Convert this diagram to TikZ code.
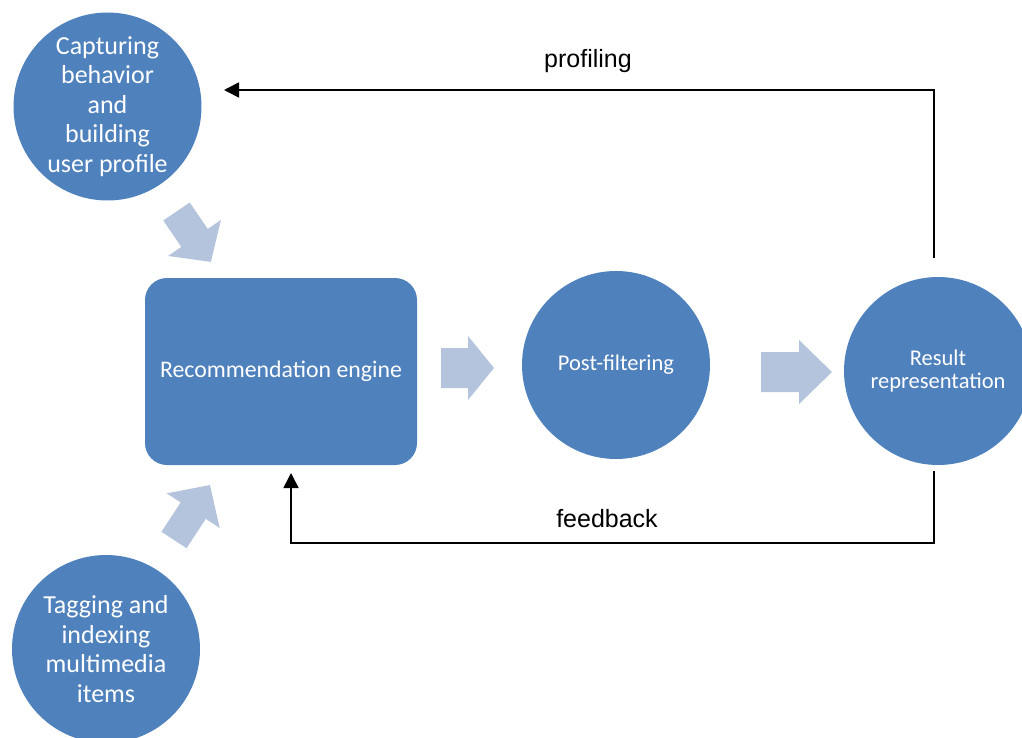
\documentclass[tikz,border=0pt]{standalone}
\usepackage{fontspec}
\setmainfont{Carlito}
\newfontfamily\labelfont{Liberation Sans}
\usetikzlibrary{arrows.meta}

\definecolor{nodeblue}{RGB}{79,129,189}
\definecolor{flowblue}{RGB}{180,196,221}

% block arrow: tail centre at the origin, pointing along +x
% #1 total length, #2 shaft half width, #3 head half width, #4 head length
\newcommand{\flowarrow}[4]{%
  \fill[flowblue] (0,-#2) -- ({#1-#4},-#2) -- ({#1-#4},-#3) -- (#1,0)
    -- ({#1-#4},#3) -- ({#1-#4},#2) -- (0,#2) -- cycle;}

\tikzset{
  bubble/.style={circle, fill=nodeblue, text=white, minimum size=188pt,
    inner sep=0pt, align=center},
  bigtext/.style={font=\fontsize{26}{29.5}\selectfont},
  smalltext/.style={font=\fontsize{22.5}{23.5}\selectfont},
  engine/.style={rectangle, rounded corners=22pt, fill=nodeblue, text=white,
    minimum width=272pt, minimum height=187pt, inner sep=0pt,
    font=\fontsize{23.8}{26}\selectfont},
  loop/.style={draw=black, line width=1.7pt, -{Triangle[length=15pt,width=15pt]}},
  looplabel/.style={font=\labelfont\fontsize{25}{28}\selectfont, anchor=base, inner sep=0pt}
}

\begin{document}
\begin{tikzpicture}[x=1pt, y=-1pt]
  \useasboundingbox (0,0) rectangle (1022,738);

  % process nodes
  \node[bubble, bigtext] (capture) at (107.5,106.5)
    {Capturing\\behavior\\and\\building\\user profile};
  \node[bubble, bigtext] (tagging) at (106,649)
    {Tagging and\\indexing\\multimedia\\items};
  \node[engine] (engine) at (281,371.5) {Recommendation engine};
  \node[bubble, smalltext] (post) at (616,365) {Post-filtering};
  \node[bubble, smalltext] (result) at (938,371) {Result\\representation};

  % block arrows between the stages
  \begin{scope}[shift={(176.5,211.5)}, rotate=-55.7]
    \flowarrow{61}{16}{32}{29}
  \end{scope}
  \begin{scope}[shift={(174,540)}, rotate=56.8]
    \flowarrow{65.7}{15}{31.6}{30.6}
  \end{scope}
  \begin{scope}[shift={(441,368)}]
    \flowarrow{53}{20}{32}{26}
  \end{scope}
  \begin{scope}[shift={(761,372)}]
    \flowarrow{71}{20}{32}{33}
  \end{scope}

  % feedback loops
  \coordinate (profStart) at (934,258);
  \coordinate (profCorner) at (934,90);
  \coordinate (profEnd) at (224,90);
  \draw[loop] (profStart) -- (profCorner) -- (profEnd);

  \coordinate (fbStart) at (934,471);
  \coordinate (fbCorner1) at (934,543);
  \coordinate (fbCorner2) at (291,543);
  \coordinate (fbEnd) at (291,473);
  \draw[loop] (fbStart) -- (fbCorner1) -- (fbCorner2) -- (fbEnd);

  \node[looplabel] (profLabel) at (588,68) {profiling};
  \node[looplabel] (fbLabel) at (607,527) {feedback};
\end{tikzpicture}
\end{document}
